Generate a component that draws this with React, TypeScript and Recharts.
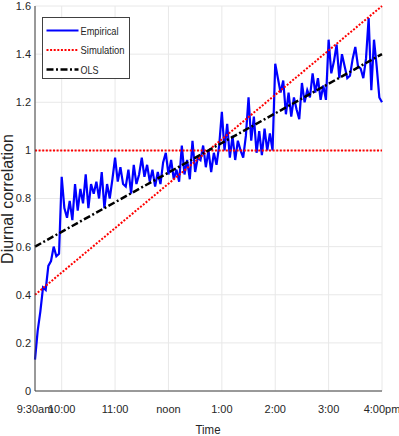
import { LineChart, Line, XAxis, YAxis, CartesianGrid, ReferenceLine } from 'recharts'

// minutes after 9:30am
const xTicks = [0, 30, 90, 150, 210, 270, 330, 390]
const xTickLabels = ['9:30am', '10:00', '11:00', 'noon', '1:00', '2:00', '3:00', '4:00pm']
const yTicks = [0, 0.2, 0.4, 0.6, 0.8, 1, 1.2, 1.4, 1.6]

// empirical diurnal correlation, one reading every 3 minutes
const stepMinutes = 3
const empirical = [
  0.13, 0.25, 0.33, 0.43, 0.42, 0.52, 0.54, 0.60, 0.56, 0.57, 0.89,
  0.76, 0.72, 0.79, 0.71, 0.86, 0.75, 0.84, 0.78, 0.90, 0.76,
  0.86, 0.82, 0.87, 0.80, 0.91, 0.76, 0.86, 0.80, 0.88, 0.97,
  0.87, 0.93, 0.86, 0.85, 0.92, 0.82, 0.94, 0.86, 0.90, 0.97,
  0.89, 0.94, 0.87, 0.92, 0.85, 0.91, 0.86, 0.95, 0.99, 0.90,
  0.96, 0.88, 0.92, 0.87, 1.02, 0.90, 0.96, 0.88, 1.04, 0.91,
  0.97, 0.96, 1.02, 0.93, 1.00, 0.91, 0.99, 0.94, 1.02, 1.16,
  1.00, 1.11, 0.97, 1.06, 0.96, 1.04, 1.00, 0.97, 1.06, 1.22,
  1.04, 1.14, 0.99, 1.08, 0.98, 1.09, 1.00, 1.07, 1.00, 1.36,
  1.30, 1.24, 1.29, 1.15, 1.24, 1.14, 1.22, 1.17, 1.13, 1.28,
  1.20, 1.25, 1.22, 1.32, 1.24, 1.30, 1.21, 1.27, 1.21, 1.46,
  1.32, 1.37, 1.44, 1.30, 1.40, 1.35, 1.30, 1.31, 1.38, 1.43,
  1.35, 1.34, 1.30, 1.38, 1.55, 1.25, 1.46, 1.35, 1.22, 1.20,
]

// simulation: diagonal + flat level; OLS fit endpoints
const simTimes = [0, 390]
const simValues = [0.4, 1.6]
const simLevel = 1
const olsTimes = [0, 390]
const olsValues = [0.6, 1.4]

const legendNames = ['Empirical', 'Simulation', 'OLS']

const empData = empirical.map((v, i) => ({ t: i * stepMinutes, v }))
const simData = simTimes.map((t, i) => ({ t, v: simValues[i] }))
const olsData = olsTimes.map((t, i) => ({ t, v: olsValues[i] }))

const FONT = '"Liberation Sans", Arial, Helvetica, sans-serif'
const AXIS = '#404040'
const TXT = '#262626'
const SIM_DASH = '2 1.6'
const OLS_DASH = '7 2.5 2 2.5'

function fmtX(v: number) {
  const i = xTicks.indexOf(v)
  return i >= 0 ? xTickLabels[i] : ''
}

// legend sample styles, same order as legendNames
const legendStyles = [
  { stroke: '#0000ff', width: 2, dash: undefined, textLen: 38 },
  { stroke: '#ff0000', width: 2, dash: SIM_DASH, textLen: 44 },
  { stroke: '#000', width: 2.5, dash: OLS_DASH, textLen: 18 },
]

export default function App() {
  return (
    <div style={{ position: 'absolute', left: 0, top: 0, width: 399, height: 436, background: '#fff' }}>
      <LineChart width={399} height={436} data={empData} margin={{ top: 6, right: 17, left: 0, bottom: 0 }}>
        <CartesianGrid stroke="#e8e8e8" strokeWidth={1} />
        <XAxis
          dataKey="t"
          type="number"
          domain={[0, 390]}
          ticks={xTicks}
          interval={0}
          tickFormatter={fmtX}
          height={45}
          tickSize={0}
          tickMargin={14}
          tickLine={false}
          axisLine={{ stroke: AXIS }}
          tick={{ fontSize: 11, fill: TXT, fontFamily: FONT }}
        />
        <YAxis
          type="number"
          domain={[0, 1.6]}
          ticks={yTicks}
          interval={0}
          width={35}
          tickSize={0}
          tickMargin={4}
          tickLine={false}
          axisLine={{ stroke: AXIS }}
          tickFormatter={(v: number) => String(v)}
          tick={{ fontSize: 11, fill: TXT, fontFamily: FONT }}
        />
        {/* inward ticks + box, MATLAB style */}
        <XAxis xAxisId="b" dataKey="t" type="number" domain={[0, 390]} ticks={xTicks} mirror height={0}
          tick={false} axisLine={false} tickLine={{ stroke: AXIS }} tickSize={4} />
        <XAxis xAxisId="t" dataKey="t" type="number" orientation="top" domain={[0, 390]} ticks={xTicks} mirror height={0}
          tick={false} axisLine={{ stroke: AXIS }} tickLine={{ stroke: AXIS }} tickSize={4} />
        <YAxis yAxisId="l" type="number" domain={[0, 1.6]} ticks={yTicks} mirror width={0}
          tick={false} axisLine={false} tickLine={{ stroke: AXIS }} tickSize={4} />
        <YAxis yAxisId="r" type="number" orientation="right" domain={[0, 1.6]} ticks={yTicks} mirror width={0}
          tick={false} axisLine={{ stroke: AXIS }} tickLine={{ stroke: AXIS }} tickSize={4} />

        <Line dataKey="v" stroke="#0000ff" strokeWidth={2.2} dot={false} isAnimationActive={false} />
        <ReferenceLine y={simLevel} stroke="#ff0000" strokeWidth={2} strokeDasharray={SIM_DASH} />
        <Line data={simData} dataKey="v" stroke="#ff0000" strokeWidth={2} strokeDasharray={SIM_DASH}
          dot={false} isAnimationActive={false} />
        <Line data={olsData} dataKey="v" stroke="#000" strokeWidth={2.5} strokeDasharray={OLS_DASH}
          dot={false} isAnimationActive={false} />
      </LineChart>

      <svg width={399} height={436} style={{ position: 'absolute', left: 0, top: 0, pointerEvents: 'none' }}>
        <text x={13} y={199} transform="rotate(-90 13 199)" textAnchor="middle" fontSize={16}
          fontFamily={FONT} fill={TXT}>Diurnal correlation</text>
        <text x={208} y={434} textAnchor="middle" fontSize={12.5} fontFamily={FONT} fill={TXT}
          textLength={25} lengthAdjust="spacingAndGlyphs">Time</text>
        <g transform="translate(42.5 17.5)">
          <rect x={0} y={0} width={87} height={61} fill="#fff" stroke={AXIS} strokeWidth={1} />
          {legendNames.map((name, i) => {
            const st = legendStyles[i]
            const y = 13 + i * 19.5
            return (
              <g key={name}>
                <line x1={4} x2={36} y1={y} y2={y} stroke={st.stroke} strokeWidth={st.width} strokeDasharray={st.dash} />
                <text x={38} y={y + 4} fontSize={11.5} fontFamily={FONT} fill={TXT}
                  textLength={st.textLen} lengthAdjust="spacingAndGlyphs">{name}</text>
              </g>
            )
          })}
        </g>
      </svg>
    </div>
  )
}
